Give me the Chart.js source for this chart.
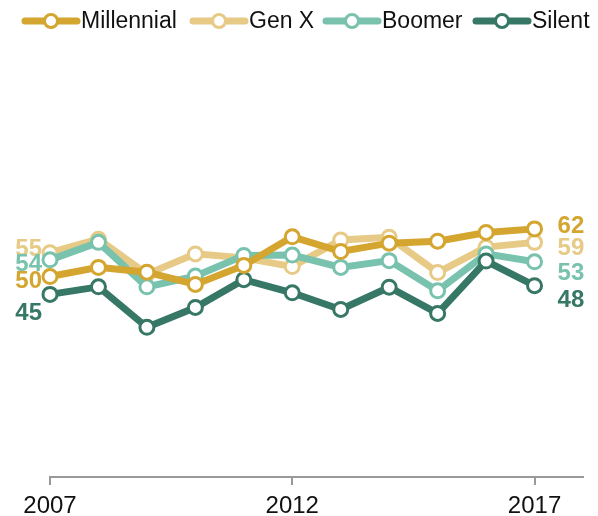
<!DOCTYPE html>
<html>
<head>
<meta charset="utf-8">
<script src="https://cdn.jsdelivr.net/npm/chart.js@4/dist/chart.umd.min.js"></script>
<style>
  html, body { margin: 0; padding: 0; background: #fff; }
  #wrap { width: 598px; height: 516px; }
</style>
</head>
<body>
<div id="wrap"><canvas id="genChart"></canvas></div>
<script>
// Data
const years = [2007, 2008, 2009, 2010, 2011, 2012, 2013, 2014, 2015, 2016, 2017];
const tickYears = [2007, 2012, 2017];
const seriesNames = ["Millennial", "Gen X", "Boomer", "Silent"];
const millennial = [50.5, 52.8, 51.6, 48.5, 53.3, 60.5, 56.8, 58.9, 59.4, 61.6, 62.5];
const genX = [56.5, 59.9, 51.1, 56.2, 55.2, 53.0, 59.7, 60.4, 51.5, 57.9, 59.1];
const boomer = [54.7, 59.1, 47.9, 50.6, 55.8, 55.9, 52.8, 54.5, 46.9, 56.2, 54.2];
const silent = [46.0, 47.9, 37.7, 42.7, 49.7, 46.4, 42.2, 47.8, 41.2, 54.4, 48.2];
const startLabels = ["50", "55", "54", "45"];
const endLabels = ["62", "59", "53", "48"];

// styles
const colors = ["#d4a52f", "#e6ca85", "#78c2ae", "#377766"];
const drawOrder = [0, 3, 2, 1]; // lower = on top
const startShift = [5, -3, 5, 19];
const endShift = [-3, 6, 12, 15];
const FONT = "'Liberation Sans', Arial, sans-serif";

const allValues = [millennial, genX, boomer, silent];

const datasets = allValues.map((vals, i) => ({
  label: seriesNames[i],
  data: vals.map((v, j) => ({ x: years[j], y: v })),
  borderColor: colors[i],
  backgroundColor: "#fff",
  borderWidth: 7,
  pointRadius: 7,
  pointBorderWidth: 3,
  pointBackgroundColor: "#fff",
  pointBorderColor: colors[i],
  order: drawOrder[i],
  clip: false,
  tension: 0
}));

// legend + end labels drawn on canvas
const decorPlugin = {
  id: "decor",
  afterDraw(chart) {
    const ctx = chart.ctx;
    ctx.save();
    // legend
    const legendX = [22, 190, 323, 473];
    const ly = 21;
    chart.data.datasets.forEach((ds, i) => {
      const x0 = legendX[i];
      ctx.strokeStyle = ds.borderColor;
      ctx.lineWidth = 7;
      ctx.lineCap = "round";
      ctx.beginPath();
      ctx.moveTo(x0 + 3, ly);
      ctx.lineTo(x0 + 55, ly);
      ctx.stroke();
      ctx.beginPath();
      ctx.arc(x0 + 29, ly, 6.5, 0, Math.PI * 2);
      ctx.fillStyle = "#fff";
      ctx.fill();
      ctx.lineWidth = 3;
      ctx.stroke();
      ctx.fillStyle = "#111";
      ctx.font = "23px " + FONT;
      ctx.textAlign = "left";
      ctx.textBaseline = "middle";
      ctx.fillText(ds.label, x0 + 59, ly + 1);
    });
    // start / end value labels
    ctx.font = "bold 24px " + FONT;
    ctx.textBaseline = "middle";
    chart.data.datasets.forEach((ds, i) => {
      const meta = chart.getDatasetMeta(i);
      const first = meta.data[0];
      const last = meta.data[meta.data.length - 1];
      ctx.fillStyle = ds.borderColor;
      ctx.textAlign = "right";
      ctx.fillText(startLabels[i], first.x - 8, first.y + startShift[i]);
      ctx.textAlign = "left";
      ctx.fillText(endLabels[i], last.x + 23, last.y + endShift[i]);
    });
    ctx.restore();
  }
};

window.onload = () => {
  const ctx = document.getElementById("genChart").getContext("2d");
  new Chart(ctx, {
    type: "line",
    data: { datasets: datasets },
    options: {
      responsive: true,
      maintainAspectRatio: false,
      animation: false,
      layout: { padding: { top: 80, left: 50, right: 15, bottom: 0 } },
      plugins: {
        legend: { display: false },
        tooltip: { enabled: false }
      },
      scales: {
        x: {
          type: "linear",
          min: 2007,
          max: 2018,
          afterBuildTicks: (scale) => {
            scale.ticks = tickYears.map(v => ({ value: v }));
          },
          afterFit: (scale) => { scale.height = 39; },
          border: { display: true, color: "#999", width: 2 },
          grid: {
            display: true,
            drawOnChartArea: false,
            drawTicks: true,
            tickLength: 8,
            color: "#999",
            lineWidth: 2
          },
          ticks: {
            color: "#111",
            padding: 7,
            maxRotation: 0,
            font: { family: FONT, size: 24 },
            callback: (v) => String(v)
          }
        },
        y: {
          display: false,
          min: 0,
          max: 100
        }
      }
    },
    plugins: [decorPlugin]
  });
};
</script>
</body>
</html>
